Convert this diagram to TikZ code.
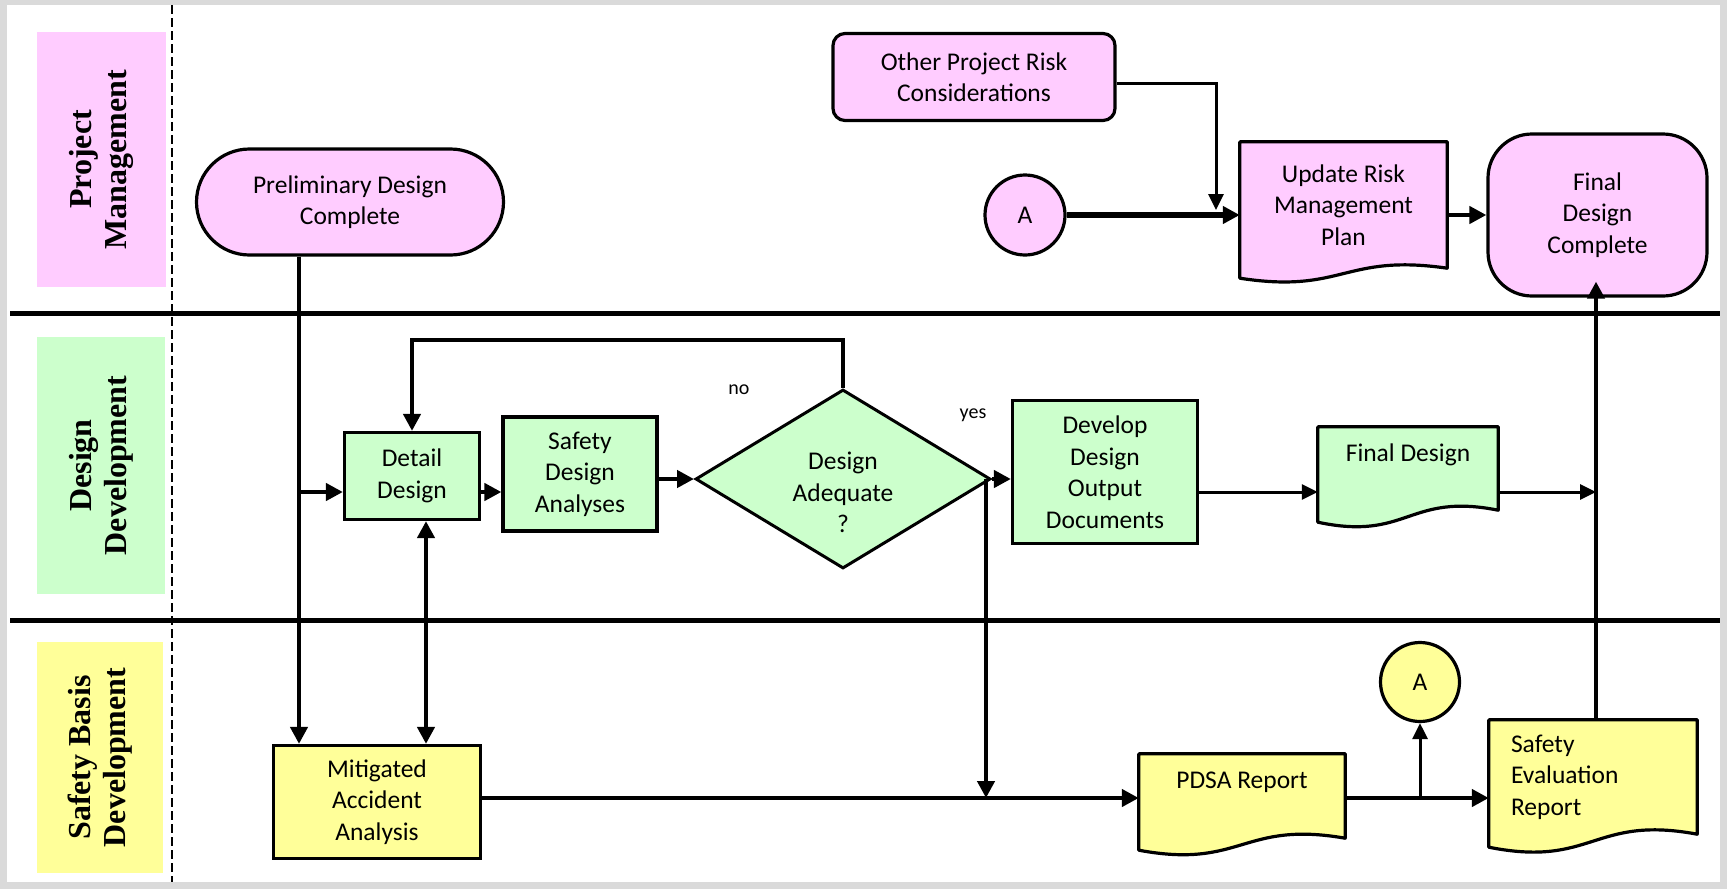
\documentclass[tikz,border=0pt]{standalone}
\usepackage{fontspec}
\setmainfont{Carlito}
\newfontfamily\lanefont{Liberation Serif}
\usetikzlibrary{arrows.meta,shapes.geometric,calc,backgrounds}

\definecolor{pmpink}{HTML}{FFCCFF}
\definecolor{ddgreen}{HTML}{CCFFCC}
\definecolor{sbyellow}{HTML}{FFFF99}
\definecolor{framegrey}{HTML}{DADADA}

\newcommand\boxfont{\fontsize{25.5}{31.5}\selectfont}
\newcommand\smallfont{\fontsize{20}{24}\selectfont}
\newcommand\lanelabelfont{\lanefont\bfseries\fontsize{32}{35}\selectfont}

% document symbol: straight top and sides, wavy bottom edge
\newcommand\docoutline[3]{%
  \path[docborder, fill=#2]
    (#1.north west) -- (#1.north east) -- (#1.south east)
    .. controls ($(#1.south)+(0,-1.5*#3)$) and ($(#1.south)+(0,2.6*#3)$)
    .. ($(#1.south west)+(0,#3)$) -- cycle;
}

\tikzset{
  box/.style={draw, line width=3.2pt, inner sep=0pt, align=center,
    font=\boxfont, text=black},
  docnode/.style={inner sep=0pt, align=center, font=\boxfont, text=black},
  docborder/.style={draw, line width=3.2pt, line join=round},
  lanelabel/.style={inner sep=0pt, align=center, font=\lanelabelfont, rotate=90},
  lanerule/.style={line width=5pt},
  laneguide/.style={line width=2.6pt, dash pattern=on 9pt off 4pt},
  tip/.style={-{Triangle[length=17pt,width=17pt]}},
  conn/.style={line width=4.5pt, tip},
  thinconn/.style={line width=3pt, -{Triangle[length=16pt,width=15pt]}},
  twoway/.style={line width=4.5pt,
    {Triangle[length=17pt,width=17pt]}-{Triangle[length=17pt,width=17pt]}},
  answer/.style={inner sep=0pt, font=\smallfont, text=black},
}

\begin{document}
\begin{tikzpicture}[x=1pt, y=-1pt]
\useasboundingbox (0,0) rectangle (1727,889);

% page and frame
\begin{scope}[on background layer]
  \fill[framegrey] (0,0) rectangle (1727,889);
  \fill[white] (7,5) rectangle (1720,882);
\end{scope}

% swimlane rules
\draw[lanerule] (10,313) -- (1720,313);
\draw[lanerule] (10,620) -- (1720,620);
\draw[laneguide] (172,5) -- (172,882);

% lane titles
\node[lanelabel, fill=pmpink, minimum width=255pt, minimum height=129pt]
  (pmlab) at (101.5,159.5) {Project\\Management};
\node[lanelabel, fill=ddgreen, minimum width=257pt, minimum height=128pt]
  (ddlab) at (101,465.5) {Design\\Development};
\node[lanelabel, fill=sbyellow, minimum width=231pt, minimum height=126pt]
  (sblab) at (100,757.5) {Safety Basis\\Development};

% project management lane
\node[box, fill=pmpink, rounded corners=53pt, minimum width=307pt, minimum height=106pt]
  (pdc) at (350,202) {Preliminary Design\\Complete};
\node[box, fill=pmpink, rounded corners=12pt, minimum width=282pt, minimum height=87pt]
  (orc) at (974,77) {Other Project Risk\\Considerations};
\node[box, fill=pmpink, circle, minimum size=80pt] (atop) at (1025,215) {A};
\node[docnode, minimum width=207pt, minimum height=126pt]
  (urmp) at (1343.5,205) {Update Risk\\Management\\Plan};
\node[box, fill=pmpink, rounded corners=44pt, minimum width=219pt, minimum height=162pt]
  (fdc) at (1597.5,215) {Final\\Design\\Complete};

% design development lane
\node[box, fill=ddgreen, minimum width=135pt, minimum height=87pt]
  (dd) at (412,476) {Detail\\Design};
\node[box, fill=ddgreen, minimum width=154pt, minimum height=114pt]
  (sda) at (580,474) {Safety\\Design\\Analyses};
\node[box, fill=ddgreen, diamond, line width=3pt, minimum width=295pt, minimum height=179pt]
  (da) at (843,479)
  {\raisebox{-22pt}[0pt][0pt]{\begin{tabular}{@{}c@{}}Design\\Adequate\\?\end{tabular}}};
\node[box, fill=ddgreen, minimum width=185pt, minimum height=143pt]
  (dodo) at (1105,472) {Develop\\Design\\Output\\Documents};
\node[docnode, minimum width=180pt, minimum height=83pt, text depth=32pt]
  (fd) at (1408,468.5) {Final Design};
\node[answer] (nolab) at (739,390) {no};
\node[answer] (yeslab) at (973,415) {yes};

% safety basis lane
\node[box, fill=sbyellow, minimum width=207pt, minimum height=113pt]
  (maa) at (377,802) {Mitigated\\Accident\\Analysis};
\node[docnode, minimum width=206pt, minimum height=84pt, text depth=32pt]
  (pdsa) at (1242,796) {PDSA Report};
\node[box, fill=sbyellow, circle, minimum size=79pt] (abot) at (1420,682) {A};
\node[docnode, minimum width=208pt, minimum height=114pt, text width=164pt, align=left]
  (ser) at (1593,777) {Safety\\Evaluation\\Report};

% document outlines behind their texts
\begin{scope}[on background layer]
  \docoutline{urmp}{pmpink}{10}
  \docoutline{fd}{ddgreen}{12}
  \docoutline{pdsa}{sbyellow}{12}
  \docoutline{ser}{sbyellow}{13}
\end{scope}

% routing points
\coordinate (trunk) at (299,492);
\coordinate (both) at (426,600);
\coordinate (loop) at (412,340);
\coordinate (merge) at (986,798);
\coordinate (rise) at (1596,492);
\coordinate (tap) at (1420,798);
\coordinate (bend) at (1216,83);

% connectors
\draw[conn] (pdc.south -| trunk) -- (maa.north -| trunk);
\draw[conn] (trunk) -- (dd.west |- trunk);
\draw[twoway] (dd.south -| both) -- (maa.north -| both);
\draw[conn] (dd.east |- trunk) -- (sda.west |- trunk);
\draw[conn] (sda.east |- da.west) -- (da.west);
\draw[conn] (da.north) -- (da.north |- loop) -- (loop) -- (dd.north);
\draw[conn] (da.east) -- (dodo.west |- da.east);
\draw[conn] (da.east -| merge) -- (merge);
\draw[conn] (maa.east |- merge) -- (pdsa.west |- merge);
\draw[thinconn] (dodo.east |- rise) -- (fd.west |- rise);
\draw[thinconn] (fd.east |- rise) -- (rise);
\draw[conn] (pdsa.east |- merge) -- (ser.west |- merge);
\draw[thinconn] (tap) -- (abot.south);
\draw[conn, shorten >=-16pt] (ser.north -| rise) -- (fdc.south -| rise);
\draw[conn, line width=6.5pt] (atop.east) -- (urmp.west |- atop.east);
\draw[thinconn, shorten >=5pt] (orc.east |- bend) -- (bend) -- (bend |- atop.east);
\draw[conn] (urmp.east |- atop.east) -- (fdc.west |- atop.east);
\end{tikzpicture}
\end{document}
